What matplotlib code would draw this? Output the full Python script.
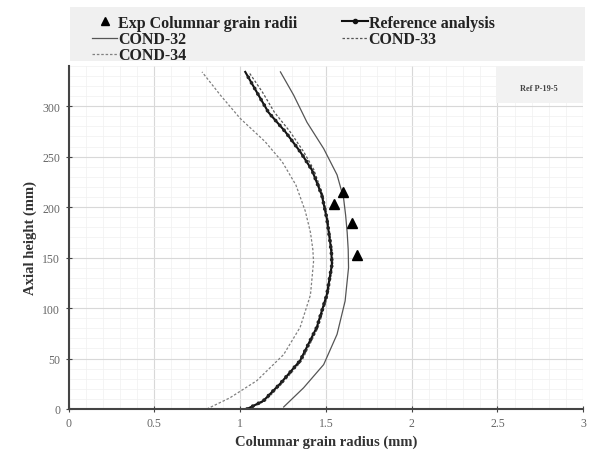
import numpy as np
import matplotlib
matplotlib.use('Agg')
import matplotlib.pyplot as plt
from matplotlib.patches import Rectangle
from matplotlib.lines import Line2D

plt.rcParams['font.family'] = ['Liberation Serif', 'DejaVu Serif']

# Experimental columnar grain radii
exp_r = [1.60, 1.55, 1.65, 1.68]
exp_h = [215, 203, 184, 153]

# Reference analysis
ref_r = [1.04, 1.135, 1.233, 1.35, 1.447, 1.505, 1.535, 1.532, 1.525, 1.505, 1.476, 1.418, 1.35, 1.262, 1.165, 1.097, 1.03]
ref_h = [0, 8, 25, 48, 81, 113, 143, 155, 165, 189, 212, 237, 255, 275, 294, 314, 334]

# COND-33 (almost on top of the reference curve)
c33_r = [1.05, 1.145, 1.243, 1.36, 1.455, 1.512, 1.54, 1.538, 1.53, 1.51, 1.482, 1.43, 1.37, 1.29, 1.20, 1.13, 1.05]
c33_h = [0, 8, 25, 48, 81, 113, 143, 155, 165, 189, 212, 237, 255, 275, 294, 314, 334]

# COND-32 (outer)
c32_r = [1.254, 1.37, 1.487, 1.565, 1.612, 1.632, 1.630, 1.624, 1.615, 1.603, 1.565, 1.487, 1.39, 1.312, 1.235]
c32_h = [2, 21, 44, 74, 107, 140, 158, 175, 192, 209, 232, 258, 284, 311, 334]

# COND-34 (inner)
c34_r = [0.806, 0.94, 1.097, 1.254, 1.35, 1.41, 1.428, 1.424, 1.41, 1.38, 1.325, 1.245, 1.145, 1.0, 0.885, 0.778]
c34_h = [0, 11, 28, 54, 81, 113, 146, 158, 175, 196, 222, 245, 265, 288, 311, 334]

fig = plt.figure(figsize=(5.89, 4.60), dpi=100)
ax = fig.add_axes([0.1163, 0.1087, 0.874, 0.746])

ax.plot(c32_r, c32_h, color='#555555', lw=0.9)
ax.plot(c34_r, c34_h, color='#808080', lw=0.9, ls=(0, (2, 1.5)))
ax.plot(c33_r, c33_h, color='#555555', lw=0.9, ls=(0, (2, 1.5)))
ax.plot(ref_r, ref_h, color='#111111', lw=1.5)
# dense round dots along the reference curve
ax.plot(ref_r, ref_h, color='#222222', lw=2.7, ls=(0, (0.01, 1.7)),
        dash_capstyle='round')
ax.plot(exp_r, exp_h, ls='none', marker='^', color='black', markersize=7)

ax.set_xlim(0, 3)
ax.set_ylim(0, 340)
ax.set_xticks(np.arange(0, 3.01, 0.5))
ax.set_xticklabels(['0', '0.5', '1', '1.5', '2', '2.5', '3'])
ax.set_yticks(np.arange(0, 301, 50))
ax.set_xticks(np.arange(0, 3.01, 0.1), minor=True)
ax.set_yticks(np.arange(0, 341, 10), minor=True)
ax.grid(True, which='major', color='#d8d8d8', lw=0.8)
ax.grid(True, which='minor', color='#f0f0f0', lw=0.5)
ax.set_axisbelow(True)
ax.tick_params(which='minor', length=0)
ax.tick_params(which='major', labelsize=8.5, colors='#444444', labelcolor='#666666',
               direction='inout', length=5)
for s in ['top', 'right']:
    ax.spines[s].set_visible(False)
for s in ['left', 'bottom']:
    ax.spines[s].set_color('#444444')
    ax.spines[s].set_linewidth(1.5)

ax.set_xlabel('Columnar grain radius (mm)', fontsize=10.5, fontweight='bold', color='#333333')
ax.set_ylabel('Axial height (mm)', fontsize=10.5, fontweight='bold', color='#333333')

# label box at top right
ax.add_patch(Rectangle((2.49, 303), 0.51, 37, facecolor='#f2f2f2', edgecolor='none', zorder=1))
ax.text(2.74, 318, 'Ref P-19-5', fontsize=6, fontweight='bold', color='#444444',
        ha='center', va='center', zorder=2)

# legend on a light grey band above the plot
fig.patches.append(Rectangle((0.119, 0.865), 0.874, 0.118, transform=fig.transFigure,
                             facecolor='#f0f0f0', edgecolor='none'))
handles = [
    Line2D([], [], ls='none', marker='^', color='black', markersize=6),
    Line2D([], [], color='#555555', lw=0.9),
    Line2D([], [], color='#808080', lw=0.9, ls=(0, (2, 1.5))),
    Line2D([], [], color='#111111', lw=1.5, marker='o', markersize=3),
    Line2D([], [], color='#555555', lw=0.9, ls=(0, (2, 1.5))),
]
labels = ['Exp Columnar grain radii', 'COND-32', 'COND-34',
          'Reference analysis', 'COND-33']
leg = fig.legend(handles, labels,
                 loc='upper left', bbox_to_anchor=(0.137, 0.99),
                 ncol=2, frameon=False,
                 prop={'weight': 'bold', 'size': 11.5}, handlelength=1.6,
                 handletextpad=0.05, labelspacing=0.02, borderpad=0.2,
                 columnspacing=2.8)
for t in leg.get_texts():
    t.set_color('#222222')

fig.savefig('out.png', dpi=100)
